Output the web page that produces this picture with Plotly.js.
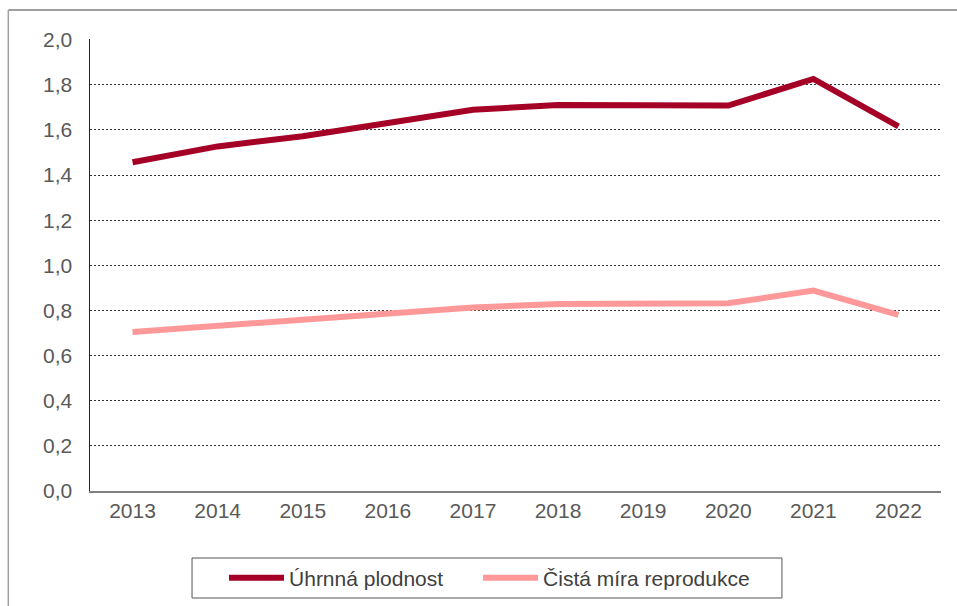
<!DOCTYPE html>
<html>
<head>
<meta charset="utf-8">
<script src="https://cdn.plot.ly/plotly-3.0.1.min.js"></script>
<style>
html,body{margin:0;padding:0;background:#fff;}
#chart{width:957px;height:606px;}
</style>
</head>
<body>
<div id="chart"></div>
<script>
const years = ["2013","2014","2015","2016","2017","2018","2019","2020","2021","2022"];
const uhrnnaPlodnost = [1.457, 1.527, 1.572, 1.628, 1.689, 1.711, 1.711, 1.708, 1.826, 1.616];
const cistaMiraReprodukce = [0.705, 0.733, 0.756, 0.787, 0.813, 0.829, 0.829, 0.832, 0.888, 0.780];
const yTickVals = [0, 0.2, 0.4, 0.6, 0.8, 1.0, 1.2, 1.4, 1.6, 1.8, 2.0];
const yTickText = ["0,0","0,2","0,4","0,6","0,8","1,0","1,2","1,4","1,6","1,8","2,0"];

const FONT = "Liberation Sans, Arial, sans-serif";

const traces = [
  {x: years, y: uhrnnaPlodnost, name: "Úhrnná plodnost", type: "scatter", mode: "lines",
   line: {color: "#A50026", width: 6}, legend: "legend"},
  {x: years, y: cistaMiraReprodukce, name: "Čistá míra reprodukce", type: "scatter", mode: "lines",
   line: {color: "#FF9999", width: 6}, legend: "legend2"}
];

const legendBase = {orientation: "h", xanchor: "left", y: -0.1925, yanchor: "middle",
  borderwidth: 0, bgcolor: "rgba(0,0,0,0)", font: {family: FONT, size: 21, color: "#404040"},
  itemwidth: 55};

const layout = {
  width: 957, height: 606,
  margin: {l: 90, r: 16, t: 39, b: 115, autoexpand: false},
  paper_bgcolor: "#fff", plot_bgcolor: "#fff",
  font: {family: FONT, size: 21, color: "#595959"},
  showlegend: true,
  legend: Object.assign({}, legendBase, {x: 0.1575}),
  legend2: Object.assign({}, legendBase, {x: 0.456}),
  xaxis: {type: "category", range: [-0.5, 9.5], showgrid: false, zeroline: false,
          showline: true, linecolor: "#808080", linewidth: 2, ticks: "",
          tickfont: {family: FONT, size: 21, color: "#595959"}, fixedrange: true},
  yaxis: {range: [0, 2.003], tickvals: yTickVals, ticktext: yTickText,
          showgrid: true, gridcolor: "#333", gridwidth: 1, griddash: "2px,2px",
          zeroline: false, showline: true, linecolor: "#222", linewidth: 1.5, ticks: "",
          ticklabelstandoff: 12,
          tickfont: {family: FONT, size: 21, color: "#595959"}, fixedrange: true},
  shapes: [
    {type: "line", xref: "paper", yref: "paper", x0: -0.096, x1: 1.1, y0: 1.0642, y1: 1.0642,
     line: {color: "#7f7f7f", width: 1.5}},
    {type: "line", xref: "paper", yref: "paper", x0: -0.096, x1: -0.096, y0: 1.0642, y1: -0.3,
     line: {color: "#a0a0a0", width: 1.5}},
    {type: "rect", xref: "paper", yref: "paper", x0: 0.1199, x1: 0.8131, y0: -0.1482, y1: -0.2367,
     line: {color: "#555", width: 1}, fillcolor: "rgba(0,0,0,0)"}
  ]
};

Plotly.newPlot("chart", traces, layout, {displayModeBar: false, staticPlot: true});
</script>
</body>
</html>
